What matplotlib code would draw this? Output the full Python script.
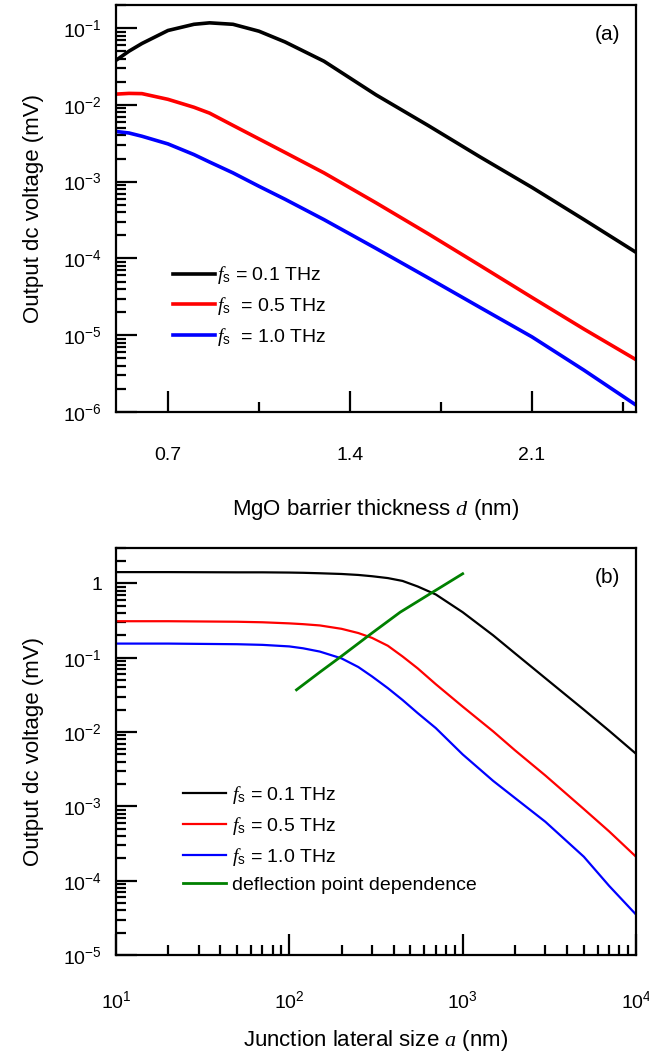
import numpy as np
import matplotlib
matplotlib.use("Agg")
import matplotlib.pyplot as plt
from matplotlib.ticker import LogLocator, FixedLocator, FuncFormatter, NullFormatter

plt.rcParams['font.family'] = ['Liberation Sans', 'DejaVu Sans']
plt.rcParams['mathtext.fontset'] = 'custom'
plt.rcParams['mathtext.rm'] = 'Liberation Sans'
plt.rcParams['mathtext.it'] = 'Liberation Serif:italic'

# (a) output voltage vs MgO barrier thickness
d_nm = [0.5, 0.55, 0.6, 0.7, 0.8, 0.86, 0.95, 1.05, 1.15, 1.3, 1.5, 1.7, 1.9, 2.1, 2.3, 2.5]
va_01 = [0.038, 0.05, 0.063, 0.093, 0.112, 0.117, 0.112, 0.091, 0.066, 0.037, 0.0135,
         0.0054, 0.0021, 8.4e-4, 3.2e-4, 1.2e-4]
va_05 = [0.0138, 0.0141, 0.014, 0.0118, 0.0093, 0.0078, 0.0054, 0.0036, 0.0024, 0.0013, 5.3e-4,
         2.1e-4, 8.1e-5, 3.1e-5, 1.2e-5, 4.8e-6]
va_10 = [4.5e-3, 4.3e-3, 3.9e-3, 3.1e-3, 2.25e-3, 1.8e-3, 1.3e-3, 8.7e-4, 5.9e-4, 3.2e-4, 1.35e-4,
         5.6e-5, 2.3e-5, 9.5e-6, 3.5e-6, 1.23e-6]

# (b) output voltage vs junction lateral size
a_nm = [10, 20, 50, 70, 100, 120, 150, 200, 250, 300, 370, 450, 550, 700, 1000, 1500, 2000,
        3000, 5000, 7000, 10000]
vb_01 = [1.42, 1.42, 1.41, 1.41, 1.40, 1.39, 1.37, 1.34, 1.30, 1.25, 1.18, 1.08, 0.91, 0.71,
         0.41, 0.20, 0.115, 0.053, 0.020, 0.0104, 0.0051]
vb_05 = [0.31, 0.31, 0.305, 0.30, 0.29, 0.283, 0.272, 0.245, 0.215, 0.185, 0.145, 0.104, 0.072,
         0.044, 0.022, 0.0102, 0.0057, 0.0026, 9.2e-4, 4.6e-4, 2.1e-4]
vb_10 = [0.155, 0.155, 0.152, 0.149, 0.142, 0.134, 0.121, 0.098, 0.075, 0.056, 0.039, 0.027,
         0.018, 0.0113, 0.0050, 0.0022, 0.0013, 6.2e-4, 2.1e-4, 8.5e-5, 3.5e-5]
a_defl = [110, 150, 200, 300, 436, 676, 1000]
v_defl = [0.037, 0.064, 0.105, 0.215, 0.41, 0.77, 1.35]

labels = [r'$f_\mathrm{s}$ = 0.1 THz', r'$f_\mathrm{s}$  = 0.5 THz', r'$f_\mathrm{s}$  = 1.0 THz']
labels_b = [r'$f_\mathrm{s}$ = 0.1 THz', r'$f_\mathrm{s}$ = 0.5 THz', r'$f_\mathrm{s}$ = 1.0 THz',
            'deflection point dependence']
colors = ['k', 'r', 'b']


def log_fmt(v, pos):
    e = int(round(np.log10(v)))
    if e == 0:
        return '1'
    return r'$\mathdefault{10^{%d}}$' % e


def style_axis(ax):
    for s in ax.spines.values():
        s.set_linewidth(1.6)
    ax.tick_params(which='both', direction='in', top=False, right=False, width=1.6, labelsize=14)
    ax.tick_params(which='major', length=15)
    ax.tick_params(which='minor', length=7.5)
    ax.tick_params(axis='y', pad=10)
    ax.tick_params(axis='x', pad=25)


fig = plt.figure(figsize=(6.49, 10.55), dpi=100)
ax1 = fig.add_axes([0.1787, 0.6095, 0.8013, 0.3858])
ax2 = fig.add_axes([0.1787, 0.0948, 0.8013, 0.3858])

# panel (a)
for v, c, lab in zip([va_01, va_05, va_10], colors, labels):
    ax1.plot(d_nm, v, color=c, lw=2.6, label=lab)
ax1.set_yscale('log')
ax1.set_xlim(0.5, 2.5)
ax1.set_ylim(1e-6, 0.2)
ax1.xaxis.set_major_locator(FixedLocator([0.7, 1.4, 2.1]))
ax1.xaxis.set_minor_locator(FixedLocator([1.05, 1.75, 2.45]))
ax1.yaxis.set_major_locator(LogLocator(base=10, numticks=20))
ax1.yaxis.set_minor_locator(LogLocator(base=10, subs=np.arange(2, 10), numticks=20))
ax1.yaxis.set_major_formatter(FuncFormatter(log_fmt))
ax1.yaxis.set_minor_formatter(NullFormatter())
style_axis(ax1)
ax1.set_xlabel('MgO barrier thickness $d$ (nm)', fontsize=16, labelpad=24)
ax1.set_ylabel('Output dc voltage (mV)', fontsize=16, labelpad=14)
ax1.text(0.97, 0.95, '(a)', transform=ax1.transAxes, ha='right', va='top', fontsize=15)
ax1.legend(loc='center left', bbox_to_anchor=(0.09, 0.26), frameon=False, fontsize=14,
           handlelength=2.2, handletextpad=0.1, labelspacing=0.45, borderpad=0)

# panel (b)
for v, c, lab in zip([vb_01, vb_05, vb_10], colors, labels_b):
    ax2.plot(a_nm, v, color=c, lw=1.6, label=lab)
ax2.plot(a_defl, v_defl, color='green', lw=2.0, label=labels_b[3])
ax2.set_xscale('log')
ax2.set_yscale('log')
ax2.set_xlim(10, 1e4)
ax2.set_ylim(1e-5, 3)
for axis in [ax2.xaxis, ax2.yaxis]:
    axis.set_major_locator(LogLocator(base=10, numticks=20))
    axis.set_minor_locator(LogLocator(base=10, subs=np.arange(2, 10), numticks=20))
    axis.set_major_formatter(FuncFormatter(log_fmt))
    axis.set_minor_formatter(NullFormatter())
style_axis(ax2)
ax2.set_xlabel('Junction lateral size $a$ (nm)', fontsize=16, labelpad=12)
ax2.set_ylabel('Output dc voltage (mV)', fontsize=16, labelpad=14)
ax2.text(0.97, 0.95, '(b)', transform=ax2.transAxes, ha='right', va='top', fontsize=15)
ax2.legend(loc='center left', bbox_to_anchor=(0.11, 0.285), frameon=False, fontsize=14,
           handlelength=2.2, handletextpad=0.3, labelspacing=0.45, borderpad=0)

fig.savefig('out.png', dpi=100)
